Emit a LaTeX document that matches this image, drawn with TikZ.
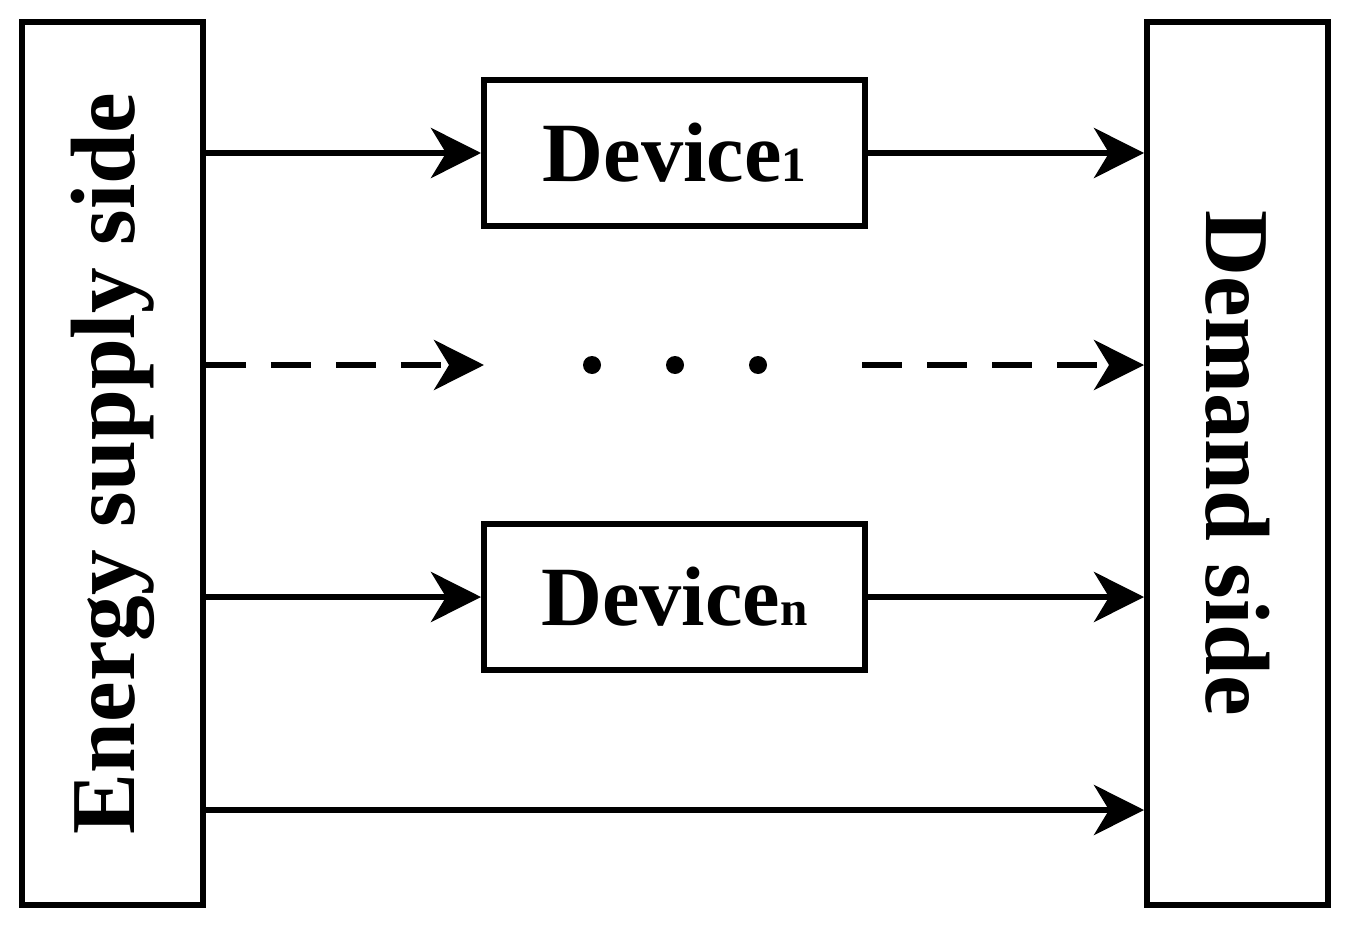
\documentclass[tikz,border=0pt]{standalone}
\usepackage{fontspec}
\setmainfont{Liberation Serif}
\usetikzlibrary{arrows.meta, positioning}
\tikzset{
	box/.style={draw, line width=1.7pt, minimum width=3.81cm, minimum height=1.46cm, font=\fontsize{24}{28}\selectfont\bfseries},
	side/.style={draw, line width=1.7pt, minimum width=1.81cm, minimum height=8.83cm},
	flow/.style={line width=1.7pt, -{Stealth[length=5mm, width=5mm, inset=1.5mm]}}
}
\begin{document}
\begin{tikzpicture}
	\useasboundingbox (0,0) rectangle (13.46,9.26);
	%Sides
		\node[side] (supply) at (1.125,4.625) {};
		\node[rotate=90, font=\fontsize{26}{30}\selectfont\bfseries] at (supply) {Energy supply side};
		\node[side] (demand) at (12.375,4.625) {};
		\node[rotate=-90, font=\fontsize{26}{30}\selectfont\bfseries] at (demand) {Demand side};
	%Devices
		\node[box] (dev1) at (6.745,7.73) {Device{\fontsize{14}{16}\selectfont 1}};
		\node[box] (devn) at (6.745,3.29) {Device{\fontsize{14}{16}\selectfont n}};
	%Dotted row
		\coordinate (d1) at (4.84,5.61);
		\coordinate (d2) at (8.62,5.61);
		\foreach \x in {5.92,6.75,7.58}
			\fill (\x,5.61) circle (0.09);
	%Arrows
		\draw[flow] (supply.east |- dev1) -- (dev1.west);
		\draw[flow] (dev1.east) -- (demand.west |- dev1);
		\draw[flow] (supply.east |- devn) -- (devn.west);
		\draw[flow] (devn.east) -- (demand.west |- devn);
		\draw[flow, dash pattern=on 0.4cm off 0.25cm] (supply.east |- d1) -- (d1);
		\draw[flow, dash pattern=on 0.4cm off 0.25cm] (d2) -- (demand.west |- d2);
		\coordinate (b) at (2,1.16);
		\draw[flow] (supply.east |- b) -- (demand.west |- b);
\end{tikzpicture}
\end{document}
